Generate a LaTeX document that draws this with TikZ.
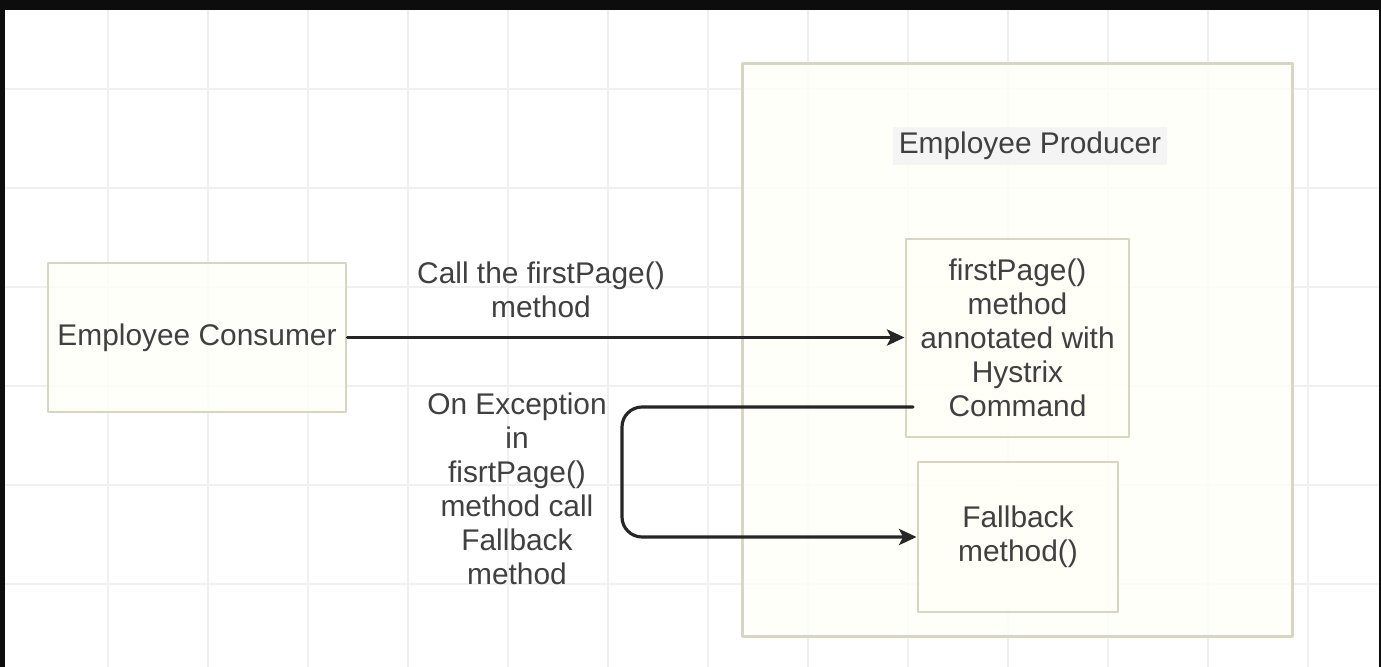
\documentclass[tikz,border=0pt]{standalone}
\usepackage{fontspec}
\setmainfont{Liberation Sans}
\usetikzlibrary{arrows.meta}
\tikzset{>={Stealth[length=5pt,width=4.6pt,inset=1.2pt]}}
\definecolor{boxfill}{HTML}{FFFFF8}
\definecolor{boxline}{HTML}{D6D6C2}
\definecolor{txtgray}{HTML}{404040}
\definecolor{gridgray}{HTML}{F0F0F0}
\definecolor{flowline}{HTML}{262626}

\begin{document}
\begin{tikzpicture}[x=0.01cm, y=-0.01cm, % 1 unidade = 1 pixel da figura
                    line cap=round, line join=round,
                    font=\fontsize{8.5}{9.7}\selectfont,
                    box/.style={draw=boxline, line width=0.8pt, fill=boxfill, fill opacity=0.85,
                                text opacity=1, text=txtgray, inner sep=0pt, align=center},
                    msg/.style={text=txtgray, align=center, inner sep=0pt},
                    flow/.style={->, flowline, line width=0.9pt}]
  \def\W{1381} % largura
  \def\H{667}  % altura
  \useasboundingbox (0,0) rectangle (\W,\H);

% Fundo e grade
  \fill[white] (0,0) rectangle (\W,\H);
  \foreach \gx in {108,208,...,1308}{
    \draw[gridgray, line width=0.8pt] (\gx,10) -- (\gx,\H);
  }
  \foreach \gy in {89,188,...,640}{
    \draw[gridgray, line width=0.8pt] (5,\gy) -- (\W,\gy);
  }
% Bordas pretas da captura
  \fill[black!95] (0,0) rectangle (\W,10);
  \fill[black!95] (0,0) rectangle (5,\H);
  \fill[black!95] (1379,0) rectangle (\W,\H);

% Caixas
  \node[box, minimum width=5.49cm, minimum height=5.72cm] (producer) at (1017.5,350) {};
  \node[fill=gray!9, inner xsep=1.5pt, inner ysep=1.5pt, text=txtgray] (ptitle) at (1030,146) {Employee Producer};
  \node[box, minimum width=2.98cm, minimum height=1.49cm] (consumer) at (197,337.5) {Employee Consumer};
  \node[box, minimum width=2.23cm, minimum height=1.98cm] (first) at (1017.5,338)
    {firstPage()\\method\\annotated with\\Hystrix\\Command};
  \node[box, minimum width=2.0cm, minimum height=1.5cm] (fallback) at (1018,537) {Fallback\\method()};

% Textos das setas
  \node[msg] (calltxt) at (541,290) {Call the firstPage()\\method};
  \node[msg] (exctxt) at (517,489) {On Exception\\in\\fisrtPage()\\method call\\Fallback\\method};

% Setas
  \draw[flow] (consumer.east) -- (consumer.east -| first.west);
  \coordinate (exc) at (913,407);
  \coordinate (bend) at (622,407);
  \draw[flow, rounded corners=5.7pt] (exc) -- (bend) |- (fallback.west);
\end{tikzpicture}
\end{document}
